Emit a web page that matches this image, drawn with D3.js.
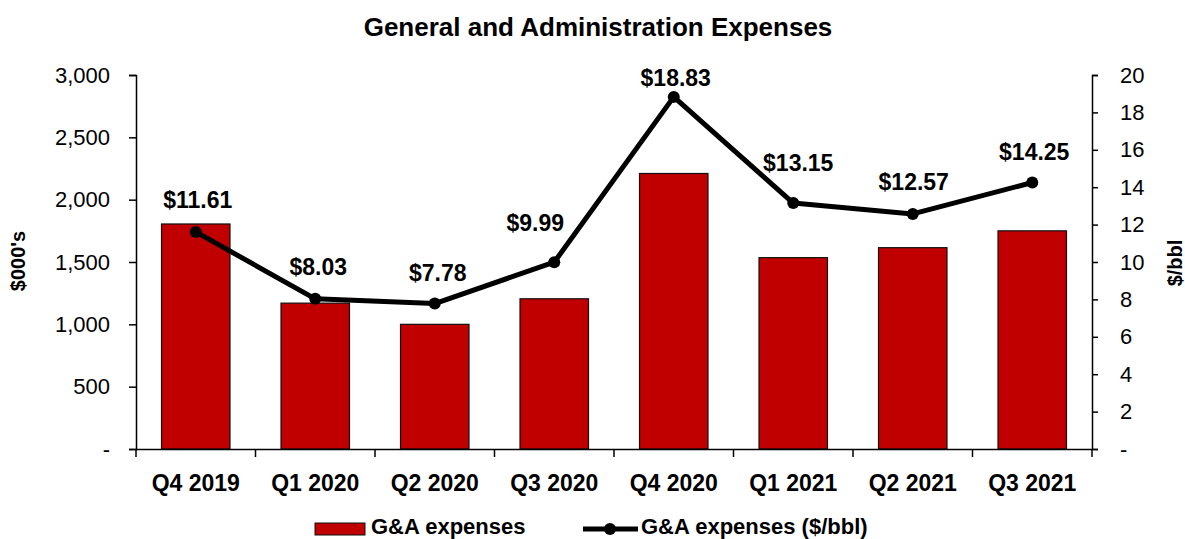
<!DOCTYPE html>
<html>
<head>
<meta charset="utf-8">
<script src="https://cdn.jsdelivr.net/npm/d3@7"></script>
<style>
  html, body { margin: 0; padding: 0; background: #fff; }
  svg { display: block; font-family: "Liberation Sans", Arial, sans-serif; }
</style>
</head>
<body>
<svg id="chart" width="1185" height="539"></svg>
<script>
// ---- data ----
const categories = ["Q4 2019", "Q1 2020", "Q2 2020", "Q3 2020", "Q4 2020", "Q1 2021", "Q2 2021", "Q3 2021"];
const gaExpenses = [1805, 1170, 1000, 1205, 2210, 1535, 1615, 1750];
const gaPerBbl = [11.61, 8.03, 7.78, 9.99, 18.83, 13.15, 12.57, 14.25];
const leftTicks = [0, 500, 1000, 1500, 2000, 2500, 3000];
const rightTicks = [0, 2, 4, 6, 8, 10, 12, 14, 16, 18, 20];
const seriesNames = ["G&A expenses", "G&A expenses ($/bbl)"];
const chartTitle = "General and Administration Expenses";

// ---- layout (not data) ----
const labelOffsets = [[2, -32], [3, -32], [3, -31], [-19, -39], [2, -19], [5, -40], [1, -32], [2, -31]];
const plot = { left: 136, right: 1092, top: 75, bottom: 449 };
const barColor = "#C00000";

const svg = d3.select("#chart");

const x = d3.scaleBand().domain(categories).range([plot.left, plot.right])
  .paddingInner(0.427).paddingOuter(0.2135);
const yL = d3.scaleLinear().domain([0, 3000]).range([plot.bottom, plot.top]);
const yR = d3.scaleLinear().domain([0, 20]).range([plot.bottom, plot.top]);

const fmtL = v => v === 0 ? "-" : d3.format(",")(v);
const fmtR = v => v === 0 ? "-" : String(v);

// title
svg.append("text").attr("x", 598).attr("y", 36).attr("text-anchor", "middle")
  .attr("font-size", 26).attr("font-weight", "bold").text(chartTitle);

// bars
svg.append("g").selectAll("rect").data(gaExpenses).join("rect")
  .attr("x", (d, i) => x(categories[i]))
  .attr("y", d => yL(d))
  .attr("width", x.bandwidth())
  .attr("height", d => yL(0) - yL(d))
  .attr("fill", barColor).attr("stroke", "#111").attr("stroke-width", 1.2);

// left axis
const gL = svg.append("g").attr("transform", `translate(${plot.left},0)`)
  .call(d3.axisLeft(yL).tickValues(leftTicks).tickFormat(fmtL).tickSizeOuter(0).tickSize(7).tickPadding(19));
gL.selectAll("text").attr("font-size", 22).attr("fill", "#000").attr("font-family", "Liberation Sans, Arial, sans-serif");

// right axis
const gR = svg.append("g").attr("transform", `translate(${plot.right},0)`)
  .call(d3.axisRight(yR).tickValues(rightTicks).tickFormat(fmtR).tickSizeOuter(0).tickSize(6).tickPadding(22));
gR.selectAll("text").attr("font-size", 22).attr("fill", "#000").attr("font-family", "Liberation Sans, Arial, sans-serif");

// bottom axis with boundary ticks
const gB = svg.append("g").attr("transform", `translate(0,${plot.bottom})`)
  .call(d3.axisBottom(x).tickSize(0).tickPadding(26));
gB.selectAll("text").attr("font-size", 23).attr("font-weight", "bold").attr("fill", "#000")
  .attr("font-family", "Liberation Sans, Arial, sans-serif");
const step = x.step();
const boundaries = categories.map((c, i) => plot.left + i * step).concat([plot.right]);
gB.selectAll("line.bt").data(boundaries).join("line").attr("class", "bt")
  .attr("x1", d => d).attr("x2", d => d).attr("y1", 0).attr("y2", 8)
  .attr("stroke", "#000").attr("stroke-width", 1.5);

[gL, gR, gB].forEach(g => {
  g.selectAll(".domain").attr("stroke", "#000").attr("stroke-width", 1.5);
  g.selectAll(".tick line").attr("stroke", "#000").attr("stroke-width", 1.5);
});

// line
const cx = i => x(categories[i]) + x.bandwidth() / 2;
const line = d3.line().x((d, i) => cx(i)).y(d => yR(d));
svg.append("path").datum(gaPerBbl).attr("d", line)
  .attr("fill", "none").attr("stroke", "#000").attr("stroke-width", 5).attr("stroke-linejoin", "round");
svg.append("g").selectAll("circle").data(gaPerBbl).join("circle")
  .attr("cx", (d, i) => cx(i)).attr("cy", d => yR(d)).attr("r", 6).attr("fill", "#000");

// data labels
svg.append("g").selectAll("text").data(gaPerBbl).join("text")
  .attr("x", (d, i) => cx(i) + labelOffsets[i][0])
  .attr("y", (d, i) => yR(d) + labelOffsets[i][1])
  .attr("dy", "0.35em")
  .attr("text-anchor", "middle").attr("font-size", 23).attr("font-weight", "bold")
  .text(d => "$" + d3.format(".2f")(d));

// axis titles
svg.append("text").attr("transform", "translate(25,261) rotate(-90)").attr("text-anchor", "middle")
  .attr("font-size", 20).attr("font-weight", "bold").text("$000's");
svg.append("text").attr("transform", "translate(1182,263) rotate(-90)").attr("text-anchor", "middle")
  .attr("font-size", 20).attr("font-weight", "bold").text("$/bbl");

// legend
const lg = svg.append("g");
lg.append("rect").attr("x", 315).attr("y", 523).attr("width", 50).attr("height", 12)
  .attr("fill", barColor).attr("stroke", "#111").attr("stroke-width", 1);
lg.append("text").attr("x", 371).attr("y", 534).attr("font-size", 22).attr("font-weight", "bold").text(seriesNames[0]);
lg.append("line").attr("x1", 583).attr("x2", 638).attr("y1", 529).attr("y2", 529)
  .attr("stroke", "#000").attr("stroke-width", 5);
lg.append("circle").attr("cx", 610).attr("cy", 529).attr("r", 6).attr("fill", "#000");
lg.append("text").attr("x", 641).attr("y", 534).attr("font-size", 22).attr("font-weight", "bold").text(seriesNames[1]);
</script>
</body>
</html>
